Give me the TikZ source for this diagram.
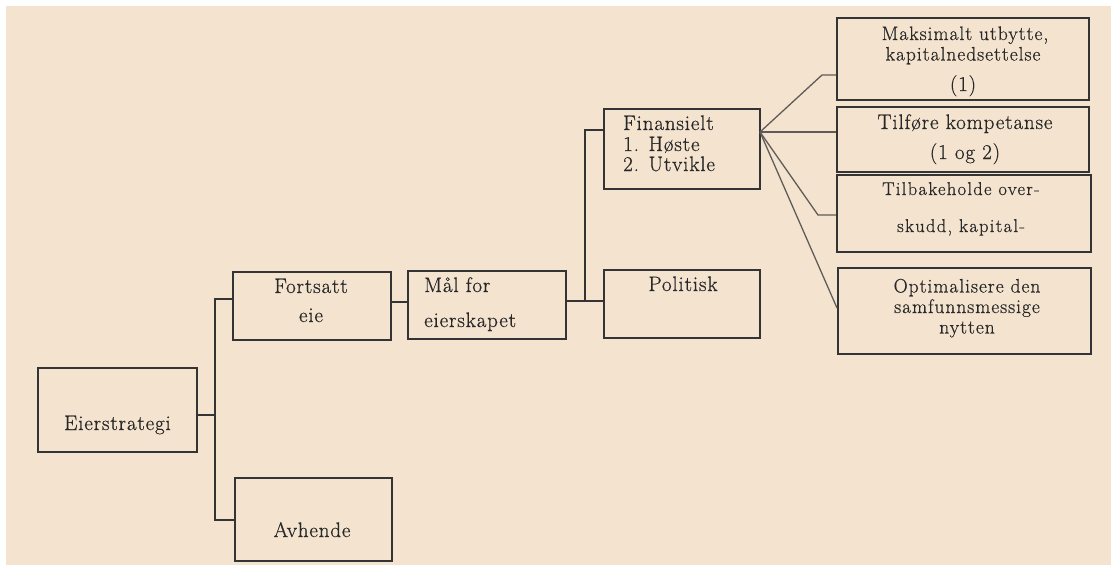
\documentclass[tikz,border=0pt]{standalone}
\usepackage{fontspec}
\setmainfont{Latin Modern Roman}[LetterSpace=4, FakeBold=0.6]
\definecolor{paper}{RGB}{243,227,207}
\definecolor{ink}{RGB}{52,52,52}
\definecolor{textink}{RGB}{40,40,40}
\definecolor{thinink}{RGB}{95,92,88}
\begin{document}
\begin{tikzpicture}[x=1pt,y=-1pt,
  box/.style={draw=ink, line width=2pt, inner sep=0pt},
  conn/.style={draw=ink, line width=2pt},
  fan/.style={draw=thinink, line width=1.3pt},
  lbl/.style={inner sep=0pt, anchor=base, text=textink, font=\fontsize{21}{24}\selectfont},
  lbll/.style={lbl, anchor=base west},
  lblt/.style={lbl, font=\fontsize{19.5}{22}\selectfont\addfontfeature{LetterSpace=5}},
  lbls/.style={lbl, font=\fontsize{18.5}{20}\selectfont\addfontfeature{LetterSpace=7}}]
  % canvas
  \useasboundingbox (0,0) rectangle (1111,565);
  \fill[white] (0,0) rectangle (1111,565);
  \fill[paper] (6,6) rectangle (1111,565);

  % boxes
  \node[box, minimum width=159pt, minimum height=84pt] (eier) at (117.5,410) {};
  \node[box, minimum width=158pt, minimum height=68pt] (fort) at (312,306) {};
  \node[box, minimum width=157pt, minimum height=83pt] (avh)  at (313.5,519.5) {};
  \node[box, minimum width=158pt, minimum height=68pt] (maal) at (487,305) {};
  \node[box, minimum width=156pt, minimum height=80pt] (fin)  at (682,149) {};
  \node[box, minimum width=156pt, minimum height=68pt] (pol)  at (682,304) {};
  \node[box, minimum width=252pt, minimum height=82pt] (maks) at (963,59) {};
  \node[box, minimum width=252pt, minimum height=65pt] (tilf) at (963,139.5) {};
  \node[box, minimum width=254pt, minimum height=77pt] (tilb) at (964,213.5) {};
  \node[box, minimum width=253pt, minimum height=86pt] (opt)  at (964.5,311) {};

  % labels
  \node[lbl] (t-eier) at (117.5,430) {Eierstrategi};
  \node[lbl] (t-fort1) at (311,293) {Fortsatt};
  \node[lbl] (t-fort2) at (311,322) {eie};
  \node[lbl] (t-avh) at (312,537) {Avhende};
  \node[lbll] (t-maal1) at (424,292) {Mål for};
  \node[lbll] (t-maal2) at (424,327) {eierskapet};
  \node[lbll] (t-fin1) at (623,130) {Finansielt};
  \node[lbll] (t-fin2) at (623,151) {1. Høste};
  \node[lbll] (t-fin3) at (623,171) {2. Utvikle};
  \node[lbl] (t-pol) at (683,291) {Politisk};
  \node[lblt] (t-maks1) at (965,40) {Maksimalt utbytte,};
  \node[lblt] (t-maks2) at (963,60.5) {kapitalnedsettelse};
  \node[lbl] (t-maks3) at (963,91) {(1)};
  \node[lbl] (t-tilf1) at (965,129) {Tilføre kompetanse};
  \node[lbl] (t-tilf2) at (965,159) {(1 og 2)};
  \node[lbls] (t-tilb1) at (961,195) {Tilbakeholde over-};
  \node[lbls] (t-tilb2) at (961,232) {skudd, kapital-};
  \node[lblt] (t-opt1) at (967,292.5) {Optimalisere den};
  \node[lblt] (t-opt2) at (967,313) {samfunnsmessige};
  \node[lblt] (t-opt3) at (967,333.5) {nytten};

  % junction points
  \coordinate (j1) at (215,415);
  \coordinate (j2) at (585,301);
  \coordinate (hub) at (760,132);
  \coordinate (k1) at (822,75);
  \coordinate (k3) at (818,215);

  % tree connectors
  \draw[conn] ([yshift=-5pt]eier.east) -- (j1);
  \draw[conn] ([yshift=7pt]fort.west) -| (j1) |- ([yshift=-0.5pt]avh.west);
  \draw[conn] ([yshift=4pt]fort.east) -- ([yshift=4pt]fort.east -| maal.west);
  \draw[conn] ([yshift=4pt]maal.east) -- ([yshift=4pt]maal.east -| pol.west);
  \draw[conn] (j2) |- ([yshift=19pt]fin.west);

  % fan from Finansielt
  \draw[fan] (hub) -- (k1) -- (k1 -| maks.west);
  \draw[fan] (hub) -- (hub -| tilf.west);
  \draw[fan] (hub) -- (k3) -- (k3 -| tilb.west);
  \draw[fan] (hub) -- ([yshift=3pt]opt.west);
\end{tikzpicture}
\end{document}
